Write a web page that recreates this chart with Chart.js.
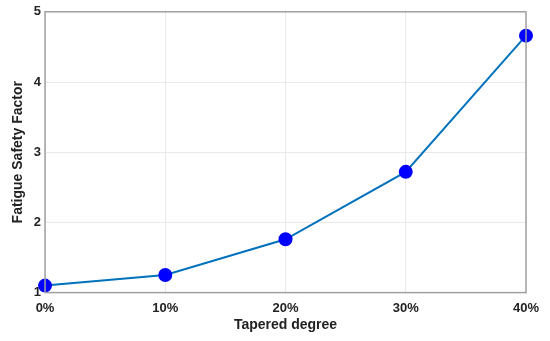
<!DOCTYPE html>
<html>
<head>
<meta charset="utf-8">
<script src="https://cdn.jsdelivr.net/npm/chart.js@4"></script>
<style>
  html, body { margin: 0; padding: 0; background: #fff; }
  #wrap { width: 550px; height: 341px; }
</style>
</head>
<body>
<div id="wrap"><canvas id="fatigueChart" width="550" height="341"></canvas></div>
<script>
// Tapered degree (%) and the fatigue safety factor
const taperedDegree = [0, 10, 20, 30, 40];
const safetyFactor = [1.10, 1.25, 1.76, 2.72, 4.66];
const yTicks = [1, 2, 3, 4, 5];

// box around the axes, MATLAB style
const axesBox = {
    id: "axesBox",
    afterDraw(chart) {
        const { ctx, chartArea: a } = chart;
        ctx.save();
        ctx.strokeStyle = "#a0a0a0";
        ctx.lineWidth = 1.5;
        ctx.strokeRect(a.left, a.top, a.right - a.left, a.bottom - a.top);
        ctx.restore();
    }
};

const tickFont = { family: "Liberation Sans, Arial", size: 13, weight: "bold" };
const titleFont = { family: "Liberation Sans, Arial", size: 14, weight: "bold" };

const ctx = document.getElementById("fatigueChart").getContext("2d");
new Chart(ctx, {
    type: "line",
    data: {
        datasets: [{
            data: taperedDegree.map((d, i) => ({ x: d, y: safetyFactor[i] })),
            borderColor: "#0072BD",
            borderWidth: 2,
            pointBackgroundColor: "#0000FF",
            pointBorderColor: "#0000FF",
            pointRadius: 6,
            tension: 0,
            clip: false
        }]
    },
    options: {
        responsive: false,
        animation: false,
        layout: { padding: { top: -2, right: 24, bottom: 7, left: 10 } },
        plugins: { legend: { display: false }, tooltip: { enabled: false } },
        scales: {
            x: {
                type: "linear",
                min: 0,
                max: 40,
                afterBuildTicks: axis => { axis.ticks = taperedDegree.map(v => ({ value: v })); },
                ticks: {
                    color: "#222",
                    font: tickFont,
                    padding: 8,
                    maxRotation: 0,
                    callback: v => v + "%"
                },
                grid: { color: "#e9e9e9", lineWidth: 1, drawTicks: false },
                border: { display: false },
                title: {
                    display: true,
                    text: "Tapered degree",
                    color: "#222",
                    font: titleFont,
                    padding: { top: -7, bottom: 0 }
                }
            },
            y: {
                min: 1,
                max: 5,
                afterBuildTicks: axis => { axis.ticks = yTicks.map(v => ({ value: v })); },
                ticks: {
                    color: "#222",
                    font: tickFont,
                    padding: 4
                },
                grid: { color: "#e9e9e9", lineWidth: 1, drawTicks: false },
                border: { display: false },
                title: {
                    display: true,
                    text: "Fatigue Safety Factor",
                    color: "#222",
                    font: titleFont,
                    padding: { top: 0, bottom: 3 }
                }
            }
        }
    },
    plugins: [axesBox]
});
</script>
</body>
</html>
